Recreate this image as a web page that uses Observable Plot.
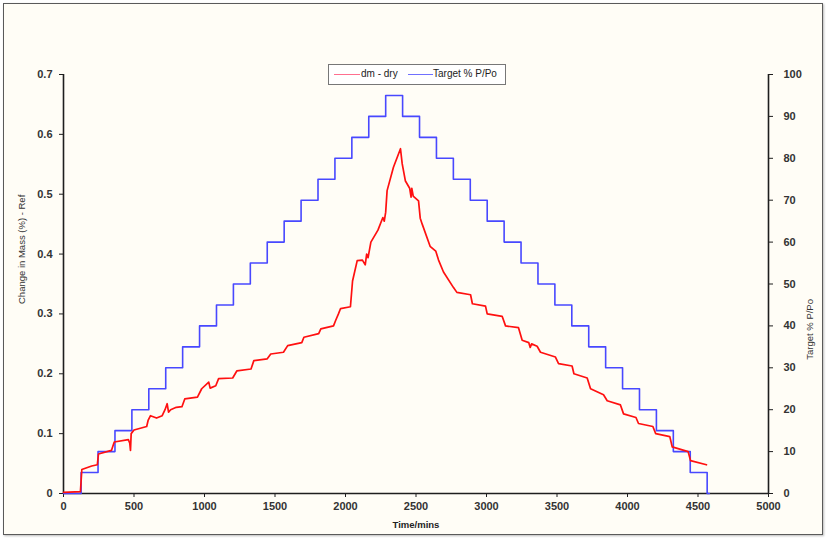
<!DOCTYPE html>
<html>
<head>
<meta charset="utf-8">
<script src="https://cdn.jsdelivr.net/npm/d3@7"></script>
<script src="https://cdn.jsdelivr.net/npm/@observablehq/plot@0.6"></script>
<style>
  html, body { margin: 0; padding: 0; background: #ffffff; }
  #wrap { position: relative; width: 827px; height: 548px; overflow: hidden; }
  #frame { position: absolute; left: 3px; top: 3px; width: 818px; height: 530px;
           border: 1.5px solid #5a5a5a; background: #fffdf6; box-shadow: 1px 1px 2px #bbb; }
  #chart { position: absolute; left: 0; top: 0; }
  #legend { position: absolute; left: 328px; top: 64px; width: 176px; height: 19px;
            border: 1px solid #777; background: #ffffff; font-family: "Liberation Sans", Arial, sans-serif;
            font-size: 10px; color: #222; }
  #legend .sw { position: absolute; top: 9px; height: 0; border-top: 1.5px solid; }
  #legend .lb { position: absolute; top: 3px; white-space: nowrap; }
</style>
</head>
<body>
<div id="wrap">
  <div id="frame"></div>
  <div id="chart"></div>
  <div id="legend">
    <div class="sw" style="left:5px;width:26px;border-color:#ff6f8f"></div>
    <div class="lb" style="left:32px">dm - dry</div>
    <div class="sw" style="left:79px;width:25px;border-color:#7070ff"></div>
    <div class="lb" style="left:104px">Target % P/Po</div>
  </div>
</div>
<script>
// ---- Data ----
// Target % P/Po step series (time at which each step starts, and its value)
const targetTime = [0, 125, 245, 365, 485, 605, 725, 845, 965, 1085, 1205, 1325, 1445, 1565, 1685, 1805, 1925, 2045, 2165, 2285,
                    2405, 2525, 2645, 2765, 2885, 3005, 3125, 3245, 3365, 3485, 3605, 3725, 3845, 3965, 4085, 4205, 4325, 4445, 4565, 4580];
const targetValue = [0, 5, 10, 15, 20, 25, 30, 35, 40, 45, 50, 55, 60, 65, 70, 75, 80, 85, 90, 95,
                     90, 85, 80, 75, 70, 65, 60, 55, 50, 45, 40, 35, 30, 25, 20, 15, 10, 5, 0, 0];

// dm - dry (change in mass %)
const dmTime = [0, 120, 130, 200, 240, 248, 340, 360, 460, 470, 475, 480, 500, 590, 600, 617, 660, 700, 720, 735, 745, 760, 800, 840,
  860, 950, 980, 1030, 1040, 1080, 1100, 1200, 1230, 1330, 1350, 1445, 1470, 1560, 1590, 1690, 1705, 1810, 1825, 1915, 1930, 1950,
  1965, 2035, 2050, 2083, 2120, 2140, 2150, 2160, 2180, 2230, 2265, 2275, 2285, 2295, 2340, 2390, 2402, 2425, 2455, 2465, 2470,
  2480, 2518, 2530, 2544, 2600, 2640, 2660, 2695, 2766, 2790, 2887, 2900, 2993, 3005, 3111, 3135, 3227, 3253, 3300, 3310, 3320,
  3359, 3383, 3489, 3511, 3607, 3620, 3714, 3738, 3830, 3856, 3950, 3972, 4060, 4078, 4180, 4200, 4300, 4317, 4430, 4447, 4560];
const dmValue = [0.002, 0.003, 0.040, 0.046, 0.048, 0.066, 0.072, 0.086, 0.090, 0.084, 0.072, 0.100, 0.106, 0.112, 0.122, 0.130,
  0.126, 0.130, 0.140, 0.150, 0.136, 0.140, 0.144, 0.145, 0.158, 0.161, 0.175, 0.186, 0.176, 0.180, 0.192, 0.193, 0.205, 0.208,
  0.222, 0.225, 0.233, 0.236, 0.247, 0.252, 0.261, 0.267, 0.275, 0.280, 0.289, 0.300, 0.309, 0.312, 0.355, 0.389, 0.390, 0.382,
  0.400, 0.394, 0.420, 0.440, 0.461, 0.455, 0.470, 0.506, 0.545, 0.576, 0.551, 0.522, 0.510, 0.495, 0.510, 0.497, 0.489, 0.460,
  0.450, 0.413, 0.405, 0.390, 0.370, 0.344, 0.336, 0.332, 0.317, 0.313, 0.300, 0.296, 0.280, 0.277, 0.256, 0.252, 0.244, 0.250,
  0.246, 0.236, 0.228, 0.217, 0.213, 0.200, 0.193, 0.175, 0.165, 0.155, 0.148, 0.133, 0.127, 0.117, 0.112, 0.100, 0.095, 0.078,
  0.070, 0.055, 0.048];

// Axis ticks
const xTicks = [0, 500, 1000, 1500, 2000, 2500, 3000, 3500, 4000, 4500, 5000];
const leftTicks = [0, 0.1, 0.2, 0.3, 0.4, 0.5, 0.6, 0.7];
const rightTicks = [0, 10, 20, 30, 40, 50, 60, 70, 80, 90, 100];
const rightMax = 100, leftMax = 0.7;
const k = leftMax / rightMax; // maps right-axis values onto left scale

const target = targetTime.map((t, i) => ({t, v: targetValue[i] * k}));
const dm = dmTime.map((t, i) => ({t, v: dmValue[i]}));

const axisColor = "#1e1e1e";
const chart = Plot.plot({
  width: 827,
  height: 548,
  marginLeft: 63,
  marginRight: 59,
  marginTop: 74,
  marginBottom: 55,
  style: {background: "transparent", fontFamily: "'Liberation Sans', Arial, sans-serif", fontSize: "11px", fontWeight: "bold", color: "#333"},
  x: {domain: [0, 5000]},
  y: {domain: [0, leftMax]},
  marks: [
    Plot.ruleX([0, 5000], {stroke: axisColor, strokeWidth: 1.6}),
    Plot.ruleY([0], {stroke: axisColor, strokeWidth: 1.6}),
    Plot.axisX(xTicks, {anchor: "bottom", tickSize: 4, tickPadding: 5, label: null, stroke: axisColor,
      tickFormat: d => String(d)}),
    Plot.axisY(leftTicks, {anchor: "left", tickSize: 4, tickPadding: 7, label: null, stroke: axisColor,
      tickFormat: d => d === 0 ? "0" : d.toFixed(1)}),
    Plot.axisY(rightTicks.map(v => v * k), {anchor: "right", tickSize: 4, tickPadding: 11, label: null, stroke: axisColor,
      tickFormat: d => String(Math.round(d / k))}),
    Plot.line(target, {x: "t", y: "v", curve: "step-after", stroke: "#4848ff", strokeWidth: 1.6}),
    Plot.line(dm, {x: "t", y: "v", stroke: "#ff1010", strokeWidth: 1.7}),
    Plot.text(["Change in Mass (%) - Ref"], {frameAnchor: "left", dx: -42, dy: 20, rotate: -90, fontSize: 9.5, fontWeight: "normal", fill: "#333"}),
    Plot.text(["Target % P/Po"], {frameAnchor: "right", dx: 41, dy: 15, rotate: -90, fontSize: 9.5, fontWeight: "normal", fill: "#333"}),
    Plot.text(["Time/mins"], {frameAnchor: "bottom", dy: 34, fontSize: 9.5, fontWeight: "bold", fill: "#222"})
  ]
});
document.getElementById("chart").appendChild(chart);
</script>
</body>
</html>
